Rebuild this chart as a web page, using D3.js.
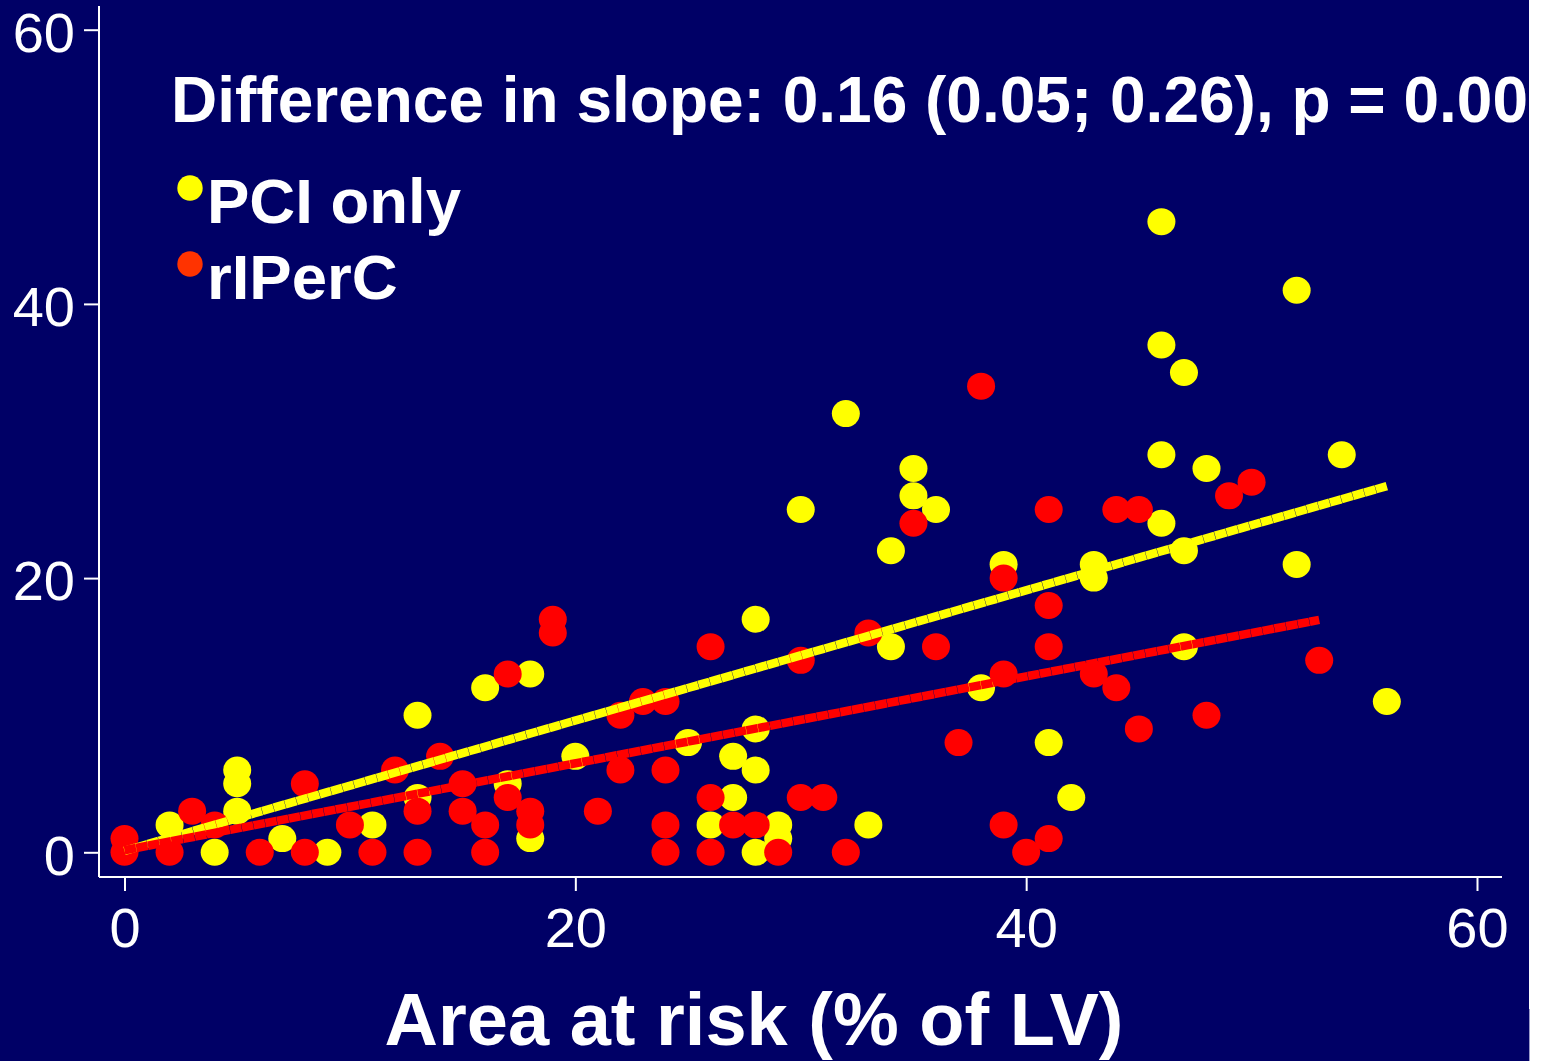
<!DOCTYPE html>
<html>
<head>
<meta charset="utf-8">
<script src="https://cdn.jsdelivr.net/npm/d3@7"></script>
<style>
  html, body { margin: 0; padding: 0; background: #ffffff; }
  svg { display: block; }
  text { font-family: "Liberation Sans", Arial, Helvetica, sans-serif; }
</style>
</head>
<body>
<svg id="chart" width="1542" height="1061"></svg>
<script>
// Axis ticks
const xTicks = [0, 20, 40, 60];
const yTicks = [0, 20, 40, 60];

// PCI only group: area at risk (x) vs. infarct size (y)
const pciX = [2, 4, 5, 5, 5, 7, 9, 11, 13, 13, 16, 17, 18, 18, 20, 25, 26, 27, 27, 28,
              28, 28, 28, 29, 29, 30, 32, 33, 34, 34, 35, 35, 36, 38, 39, 41, 42, 43, 43, 46,
              46, 46, 46, 47, 47, 47, 48, 52, 52, 54, 56];
const pciY = [2, 0, 6, 5, 3, 1, 0, 2, 10, 4, 12, 5, 13, 1, 7, 8, 2, 7, 4, 17,
              9, 6, 0, 2, 1, 25, 32, 2, 22, 15, 28, 26, 25, 12, 21, 8, 4, 21, 20, 46,
              37, 29, 24, 35, 22, 15, 28, 41, 21, 29, 11];

// rIPerC group
const rxX = [0, 0, 2, 3, 4, 6, 8, 8, 10, 11, 12, 13, 13, 14, 15, 15, 16, 16, 17, 17,
             18, 18, 19, 19, 21, 22, 22, 23, 24, 24, 24, 24, 26, 26, 26, 27, 28, 29, 30, 30,
             31, 32, 33, 35, 36, 37, 38, 39, 39, 39, 40, 41, 41, 41, 41, 43, 44, 44, 45, 45,
             48, 49, 50, 53];
const rxY = [1, 0, 0, 3, 2, 0, 5, 0, 2, 0, 6, 3, 0, 7, 5, 3, 2, 0, 13, 4,
             3, 2, 17, 16, 3, 10, 6, 11, 11, 6, 2, 0, 15, 4, 0, 2, 2, 0, 14, 4,
             4, 0, 16, 24, 15, 8, 34, 20, 13, 2, 0, 25, 18, 15, 1, 13, 25, 12, 25, 9,
             10, 26, 27, 14];

// Group names and fitted regression lines (PCI only, rIPerC)
const seriesNames = ["PCI only", "rIPerC"];
const fitIntercept = [0.11, 0.15];
const fitSlope = [0.475, 0.317];
const fitMaxX = [56, 53];

const titleText = "Difference in slope: 0.16 (0.05; 0.26), p = 0.00";
const xTitle = "Area at risk (% of LV)";

// ---- drawing ----
const navy = "#000066";
const pciColor = "#ffff00";
const rxColor = "#ff0000";
const rxLegendColor = "#ff3300";

const svg = d3.select("#chart");

// slide background (ends short of the right edge)
svg.append("rect").attr("x", 0).attr("y", 0).attr("width", 1529).attr("height", 1061).attr("fill", navy);
svg.append("line").attr("x1", 1529.5).attr("x2", 1529.5).attr("y1", 1009).attr("y2", 1061)
  .attr("stroke", "#9a9ac8").attr("stroke-width", 1);

const defs = svg.append("defs");
defs.append("clipPath").attr("id", "slideClip")
  .append("rect").attr("x", 0).attr("y", 0).attr("width", 1529).attr("height", 1061);

const x = d3.scaleLinear().domain([0, 60]).range([124.5, 1477]);
const y = d3.scaleLinear().domain([0, 60]).range([852.3, 29.7]);

// axis frame lines
const frameLeft = 99, frameBottom = 877;
svg.append("line").attr("x1", frameLeft).attr("x2", frameLeft).attr("y1", 6).attr("y2", frameBottom)
  .attr("stroke", "#ffffff").attr("stroke-width", 2);
svg.append("line").attr("x1", frameLeft).attr("x2", 1502).attr("y1", frameBottom).attr("y2", frameBottom)
  .attr("stroke", "#ffffff").attr("stroke-width", 2);

// y axis
const yAxis = d3.axisLeft(y).tickValues(yTicks).tickFormat(d3.format("d"))
  .tickSize(15).tickSizeOuter(0).tickPadding(9);
const gy = svg.append("g").attr("transform", `translate(${frameLeft},0)`).call(yAxis);
gy.select(".domain").remove();
gy.selectAll(".tick line").attr("stroke", "#ffffff").attr("stroke-width", 2);
gy.selectAll(".tick text").attr("fill", "#ffffff").attr("font-size", 56)
  .attr("font-family", "Liberation Sans, Arial, sans-serif").attr("dy", "0.39em");

// x axis
const xAxis = d3.axisBottom(x).tickValues(xTicks).tickFormat(d3.format("d"))
  .tickSize(14).tickSizeOuter(0).tickPadding(16);
const gx = svg.append("g").attr("transform", `translate(0,${frameBottom})`).call(xAxis);
gx.select(".domain").remove();
gx.selectAll(".tick line").attr("stroke", "#ffffff").attr("stroke-width", 2);
gx.selectAll(".tick text").attr("fill", "#ffffff").attr("font-size", 56)
  .attr("font-family", "Liberation Sans, Arial, sans-serif");

// points
const pciPts = pciX.map((v, i) => ({ x: v, y: pciY[i] }));
const rxPts = rxX.map((v, i) => ({ x: v, y: rxY[i] }));

svg.append("g").selectAll("ellipse").data(pciPts).join("ellipse")
  .attr("cx", d => x(d.x)).attr("cy", d => y(d.y))
  .attr("rx", 14).attr("ry", 13.5).attr("fill", pciColor);

svg.append("g").selectAll("ellipse").data(rxPts).join("ellipse")
  .attr("cx", d => x(d.x)).attr("cy", d => y(d.y))
  .attr("rx", 14).attr("ry", 13.5).attr("fill", rxColor);

// regression lines
const fitColors = [pciColor, rxColor];
seriesNames.forEach((name, i) => {
  const line = d3.line().x(d => x(d)).y(d => y(fitIntercept[i] + fitSlope[i] * d));
  svg.append("path")
    .attr("d", line([0, fitMaxX[i]]))
    .attr("fill", "none")
    .attr("stroke", fitColors[i])
    .attr("stroke-width", 8.5)
    .attr("stroke-linecap", "butt")
    .attr("stroke-dasharray", "11.6 0.35");
});

// title
svg.append("text")
  .attr("x", 171).attr("y", 122)
  .attr("clip-path", "url(#slideClip)")
  .attr("fill", "#ffffff").attr("font-size", 64).attr("font-weight", "bold")
  .text(titleText);

// legend
const legendColors = [pciColor, rxLegendColor];
const legendRowY = [188, 264];
const legend = svg.append("g");
seriesNames.forEach((name, i) => {
  legend.append("circle").attr("cx", 190).attr("cy", legendRowY[i]).attr("r", 12.7).attr("fill", legendColors[i]);
  legend.append("text").attr("x", 207).attr("y", legendRowY[i] + 35)
    .attr("fill", "#ffffff").attr("font-size", 63.5).attr("font-weight", "bold")
    .text(name);
});

// x axis title
svg.append("text")
  .attr("x", 754).attr("y", 1045).attr("text-anchor", "middle")
  .attr("fill", "#ffffff").attr("font-size", 74).attr("font-weight", "bold")
  .text(xTitle);
</script>
</body>
</html>
